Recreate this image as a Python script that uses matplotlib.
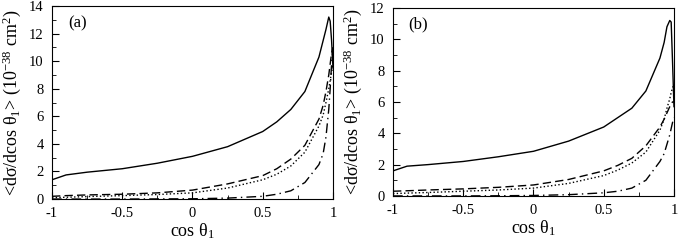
import matplotlib
matplotlib.use("Agg")
import matplotlib.pyplot as plt
from matplotlib.ticker import MultipleLocator, FuncFormatter

plt.rcParams['font.family'] = ['Liberation Serif', 'DejaVu Serif']
plt.rcParams['mathtext.fontset'] = 'custom'
plt.rcParams['mathtext.rm'] = 'Liberation Serif'
plt.rcParams['mathtext.it'] = 'Liberation Serif'
plt.rcParams['axes.unicode_minus'] = False

# panel (a)
xa = [-1, -0.9, -0.75, -0.5, -0.25, 0, 0.25, 0.5, 0.6, 0.7, 0.8, 0.9, 0.93, 0.95, 0.97, 0.98, 0.99, 1.0]
a_solid = [1.4, 1.75, 1.95, 2.2, 2.6, 3.1, 3.8, 4.9, 5.6, 6.5, 7.8, 10.3, 11.5, 12.3, 13.2, 12.9, 11.5, 9.5]
a_dash = [0.2, 0.25, 0.3, 0.35, 0.45, 0.65, 1.1, 1.7, 2.2, 2.9, 3.9, 5.8, 6.8, 7.8, 9.0, 9.8, 10.6, 11.0]
a_dot = [0.1, 0.13, 0.18, 0.25, 0.33, 0.45, 0.8, 1.4, 1.8, 2.4, 3.4, 5.3, 6.1, 7.0, 8.0, 8.6, 9.2, 9.7]
a_dashdot = [0.0, 0.0, 0.0, 0.0, 0.01, 0.02, 0.07, 0.2, 0.35, 0.6, 1.2, 2.5, 3.3, 4.5, 6.5, 8.0, 9.8, 11.0]

# panel (b)
xb = [-1, -0.9, -0.75, -0.5, -0.25, 0, 0.25, 0.5, 0.6, 0.7, 0.8, 0.9, 0.93, 0.95, 0.97, 0.98, 0.99, 1.0]
b_solid = [1.6, 1.9, 2.0, 2.2, 2.5, 2.85, 3.5, 4.4, 5.0, 5.6, 6.7, 8.8, 9.8, 10.8, 11.2, 11.1, 8.5, 5.7]
b_dash = [0.3, 0.33, 0.38, 0.45, 0.55, 0.7, 1.05, 1.6, 1.95, 2.4, 3.2, 4.4, 4.9, 5.3, 5.7, 5.9, 6.0, 6.0]
b_dot = [0.15, 0.18, 0.22, 0.3, 0.38, 0.5, 0.8, 1.3, 1.65, 2.1, 2.8, 4.2, 4.9, 5.6, 6.2, 6.6, 6.9, 7.1]
b_dashdot = [0.0, 0.0, 0.0, 0.0, 0.01, 0.03, 0.08, 0.2, 0.3, 0.5, 1.0, 2.2, 2.7, 3.3, 3.9, 4.3, 4.7, 5.0]

fig = plt.figure(figsize=(6.79, 2.41), dpi=100)
ax1 = fig.add_axes([0.0766, 0.174, 0.4138, 0.801])
ax2 = fig.add_axes([0.5788, 0.187, 0.4138, 0.780])

ylab = r'<d$\sigma$/dcos $\theta_{1}$> (10$^{-38}$ cm$^{2}$)'
xlab = r'cos $\theta_{1}$'

for ax, x, s, d, o, dd, ymax, tag in [
        (ax1, xa, a_solid, a_dash, a_dot, a_dashdot, 14, '(a)'),
        (ax2, xb, b_solid, b_dash, b_dot, b_dashdot, 12, '(b)')]:
    ax.plot(x, s, 'k-', lw=1.0)
    ax.plot(x, d, 'k--', lw=1.0, dashes=(6, 3))
    ax.plot(x, o, 'k:', lw=1.0)
    ax.plot(x, dd, 'k-.', lw=1.0, dashes=(7, 3, 1, 3))
    ax.set_xlim(-1, 1)
    ax.set_ylim(0, ymax)
    ax.xaxis.set_major_locator(MultipleLocator(0.5))
    ax.xaxis.set_minor_locator(MultipleLocator(0.25))
    ax.yaxis.set_major_locator(MultipleLocator(2))
    ax.yaxis.set_minor_locator(MultipleLocator(1))
    ax.xaxis.set_major_formatter(FuncFormatter(lambda v, p: '%g' % v))
    ax.yaxis.set_major_formatter(FuncFormatter(lambda v, p: '%g' % v))
    ax.tick_params(which='both', direction='in', top=False, right=False, labelsize=10.5, pad=6)
    ax.tick_params(which='major', length=5)
    ax.tick_params(which='minor', length=3)
    ax.set_xlabel(xlab, fontsize=13, labelpad=1)
    ax.set_ylabel(ylab, fontsize=13, labelpad=4)
    ax.text(-0.82, ymax * 0.91, tag, fontsize=12, ha='center', va='center')

fig.savefig('out.png', dpi=100)
